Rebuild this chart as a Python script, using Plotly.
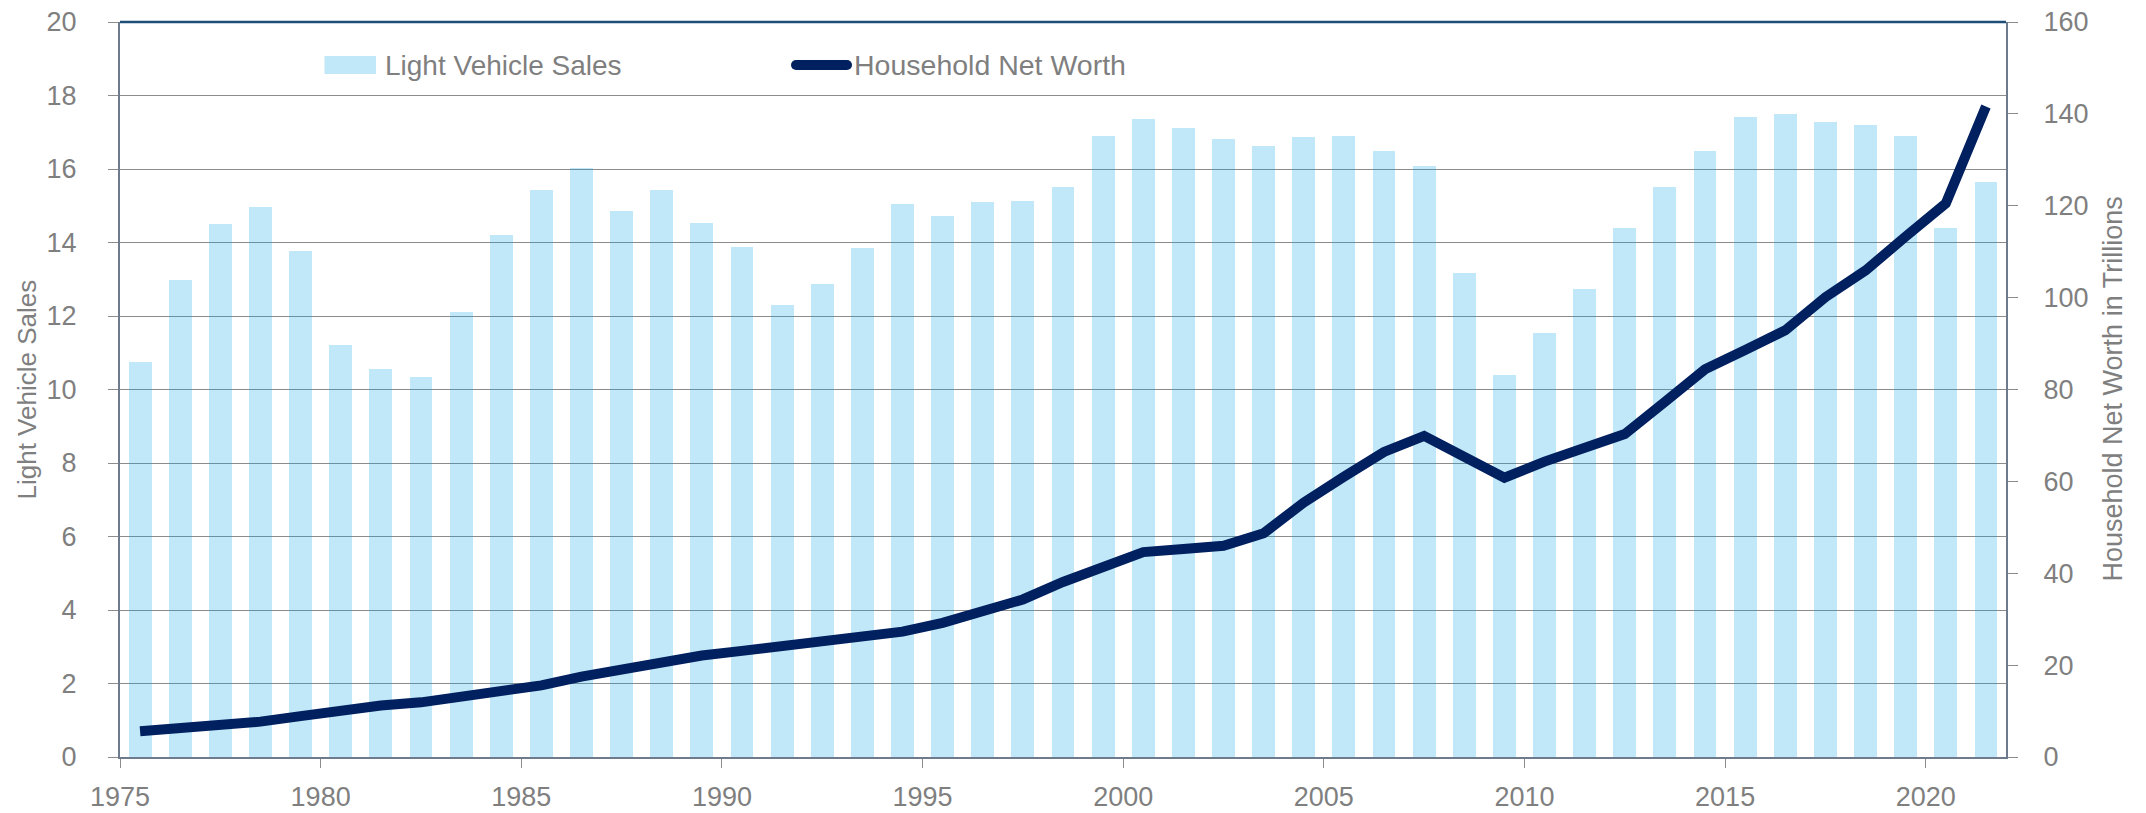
import plotly.graph_objects as go

# ---------------- data ----------------
years = list(range(1975, 2022))
light_vehicle_sales = [10.75, 12.99, 14.49, 14.96, 13.77, 11.20, 10.55, 10.34, 12.10, 14.20,
                       15.42, 16.02, 14.85, 15.43, 14.52, 13.89, 12.29, 12.86, 13.85, 15.04,
                       14.71, 15.09, 15.12, 15.52, 16.89, 17.35, 17.11, 16.81, 16.63, 16.86,
                       16.89, 16.48, 16.09, 13.18, 10.39, 11.55, 12.73, 14.39, 15.50, 16.48,
                       17.42, 17.51, 17.27, 17.19, 16.89, 14.39, 15.65]
household_net_worth = [5.6, 6.2, 6.9, 7.7, 8.9, 10.2, 11.2, 11.9, 13.2, 14.1,
                       15.6, 17.5, 19.1, 20.4, 22.1, 23.1, 24.2, 24.9, 26.4, 27.3,
                       29.2, 31.6, 34.3, 38.1, 41.3, 44.6, 45.3, 46.0, 48.7, 55.4,
                       61.0, 66.4, 69.9, 65.5, 60.8, 64.3, 67.1, 70.3, 77.3, 84.4,
                       88.6, 92.9, 100.1, 105.9, 113.3, 120.5, 141.6]
x_tick_vals = [1975, 1980, 1985, 1990, 1995, 2000, 2005, 2010, 2015, 2020]
left_title = "Light Vehicle Sales"
right_title = "Household Net Worth in Trillions"
bar_name = "Light Vehicle Sales"
line_name = "Household Net Worth"

# ---------------- styling ----------------
W, H = 2146, 813
ML, MR, MT, MB = 120, 140, 22, 56
PW, PH = W - ML - MR, H - MT - MB
FONT = "Liberation Sans, Arial, sans-serif"
TXT = "#7F7F7F"
GRID = "#8C8C8C"
AXL = "#6D7B8D"
BAR = "rgba(0,162,226,0.243)"
NAVY = "#002060"


def px(xp):
    return (xp - ML) / PW


def py(yp):
    return (H - MB - yp) / PH


xpos = [y + 0.5 for y in years]

fig = go.Figure()
fig.add_trace(go.Bar(x=xpos, y=light_vehicle_sales, width=0.57, name=bar_name,
                     marker=dict(color=BAR, line=dict(width=0)), showlegend=False))
fig.add_trace(go.Scatter(x=xpos, y=household_net_worth, yaxis="y2", mode="lines", name=line_name,
                         line=dict(color=NAVY, width=10), showlegend=False))

fig.update_layout(
    width=W, height=H, autosize=False,
    margin=dict(l=ML, r=MR, t=MT, b=MB, pad=0, autoexpand=False),
    plot_bgcolor="white", paper_bgcolor="white",
    font=dict(family=FONT, color=TXT, size=27),
    bargap=0,
    showlegend=False,
    xaxis=dict(range=[1975, 2022], tickmode="array", tickvals=x_tick_vals, automargin=False,
               ticks="outside", ticklen=9, tickwidth=1, tickcolor=GRID,
               showline=True, linecolor=AXL, linewidth=2, showgrid=False, zeroline=False,
               tickfont=dict(size=27, color=TXT, family=FONT), ticklabelstandoff=6),
    yaxis=dict(range=[0, 20], dtick=2, tick0=0, ticks="outside", ticklen=10, tickwidth=1,
               automargin=False,
               tickcolor=GRID, showline=True, linecolor=AXL, linewidth=2,
               showgrid=True, gridcolor=GRID, gridwidth=1, zeroline=False,
               tickfont=dict(size=27, color=TXT, family=FONT), ticklabelstandoff=26),
    yaxis2=dict(range=[0, 160], dtick=20, tick0=0, overlaying="y", side="right",
                automargin=False,
                ticks="outside", ticklen=10, tickwidth=1, tickcolor=GRID,
                showline=True, linecolor=AXL, linewidth=2, showgrid=False, zeroline=False,
                tickfont=dict(size=27, color=TXT, family=FONT), ticklabelstandoff=20),
)

shapes = [
    # top border of plot area
    dict(type="line", xref="paper", yref="paper", x0=0, x1=1, y0=1, y1=1,
         line=dict(color="#1F4E79", width=2.5)),
    # legend swatch: bars
    dict(type="rect", xref="paper", yref="paper", x0=px(324.5), x1=px(376), y0=py(74), y1=py(56),
         fillcolor=BAR, line=dict(width=0)),
    # legend swatch: line (rounded)
    dict(type="rect", xref="paper", yref="paper", x0=px(796), x1=px(847), y0=py(70), y1=py(60),
         fillcolor=NAVY, line=dict(width=0)),
    dict(type="circle", xref="paper", yref="paper", x0=px(791), x1=px(801), y0=py(70), y1=py(60),
         fillcolor=NAVY, line=dict(width=0)),
    dict(type="circle", xref="paper", yref="paper", x0=px(842), x1=px(852), y0=py(70), y1=py(60),
         fillcolor=NAVY, line=dict(width=0)),
]

annotations = [
    dict(text=bar_name, xref="paper", yref="paper", x=px(383), y=py(65), xanchor="left",
         yanchor="middle", showarrow=False, font=dict(size=28, color=TXT, family=FONT)),
    dict(text=line_name, xref="paper", yref="paper", x=px(852), y=py(65), xanchor="left",
         yanchor="middle", showarrow=False, font=dict(size=28.5, color=TXT, family=FONT)),
    dict(text=left_title, xref="paper", yref="paper", x=px(26), y=0.5, textangle=-90,
         xanchor="center", yanchor="middle", showarrow=False,
         font=dict(size=26, color=TXT, family=FONT)),
    dict(text=right_title, xref="paper", yref="paper", x=px(2112), y=0.5, textangle=-90,
         xanchor="center", yanchor="middle", showarrow=False,
         font=dict(size=27, color=TXT, family=FONT)),
]
fig.update_layout(shapes=shapes, annotations=annotations)

fig.write_html("out.html", config={"displayModeBar": False},
               post_script="document.body.style.margin='0';document.body.style.overflow='hidden';")
